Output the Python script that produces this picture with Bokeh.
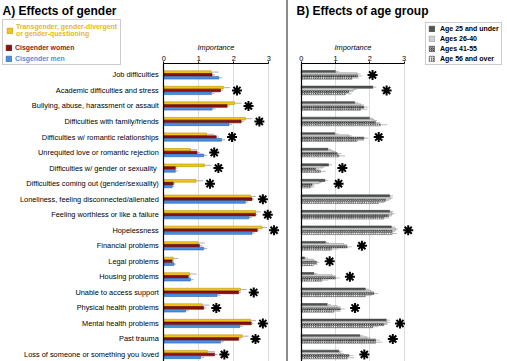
from bokeh.plotting import figure
from bokeh.models import (Range1d, FixedTicker, Legend, LegendItem,
                          BoxAnnotation, Div, ColumnDataSource)
from bokeh.layouts import row
from bokeh.embed import file_html
from bokeh.resources import INLINE

# ---------------- data ----------------
categories = [
    "Job difficulties",
    "Academic difficulties and stress",
    "Bullying, abuse, harassment or assault",
    "Difficulties with family/friends",
    "Difficulties w/ romantic relationships",
    "Unrequited love or romantic rejection",
    "Difficulties  w/ gender or sexuality",
    "Difficulties coming out (gender/sexuality)",
    "Loneliness, feeling disconnected/alienated",
    "Feeling worthless or like a failure",
    "Hopelessness",
    "Financial problems",
    "Legal problems",
    "Housing problems",
    "Unable to access support",
    "Physical health problems",
    "Mental health problems",
    "Past trauma",
    "Loss of someone or something you loved",
]
axis_ticks = [0, 1, 2, 3]

gender_labels = ["Transgender, gender-divergent\nor gender-questioning",
                 "Cisgender women", "Cisgender men"]
trans = [1.35, 1.70, 2.02, 2.33, 1.22, 0.76, 1.16, 0.92, 2.48, 2.62, 2.81,
         0.97, 0.27, 0.74, 2.19, 1.10, 2.48, 2.24, 1.24]
trans_err = [0.22, 0.19, 0.20, 0.20, 0.22, 0.20, 0.20, 0.20, 0.15, 0.15, 0.14,
             0.20, 0.14, 0.20, 0.18, 0.20, 0.15, 0.18, 0.22]
women = [1.38, 1.62, 1.81, 2.21, 1.50, 0.95, 0.33, 0.27, 2.52, 2.62, 2.67,
         1.02, 0.24, 0.70, 2.14, 1.14, 2.50, 2.14, 1.45]
women_err = [0.08, 0.07, 0.07, 0.07, 0.08, 0.08, 0.06, 0.05, 0.06, 0.06, 0.05,
             0.08, 0.05, 0.07, 0.07, 0.08, 0.06, 0.07, 0.08]
men = [1.57, 1.36, 1.38, 1.86, 1.65, 1.14, 0.33, 0.24, 2.33, 2.43, 2.52,
       1.14, 0.29, 0.76, 1.52, 0.62, 2.17, 1.62, 1.05]
men_err = [0.10, 0.09, 0.10, 0.09, 0.10, 0.10, 0.07, 0.06, 0.08, 0.08, 0.08,
           0.10, 0.06, 0.09, 0.10, 0.09, 0.09, 0.10, 0.10]
sig_gender = [0, 1, 1, 1, 1, 1, 1, 1, 1, 1, 1, 0, 0, 0, 1, 1, 1, 1, 1]

age_labels = ["Age 25 and under", "Ages 26-40", "Ages 41-55", "Age 56 and over"]
age_u25 = [1.00, 2.09, 1.56, 1.99, 0.98, 0.78, 0.80, 0.69, 2.58, 2.58, 2.63,
           0.71, 0.10, 0.37, 1.87, 0.76, 2.48, 1.71, 1.10]
age_26_40 = [1.63, 1.53, 1.73, 2.12, 1.39, 0.92, 0.61, 0.52, 2.60, 2.65, 2.75,
             1.24, 0.35, 0.90, 2.02, 1.05, 2.50, 1.92, 1.14]
age_41_55 = [1.65, 1.39, 1.83, 2.17, 1.83, 1.05, 0.42, 0.32, 2.46, 2.55, 2.65,
             1.34, 0.45, 1.00, 2.12, 1.14, 2.41, 2.17, 1.39]
age_56 = [1.48, 1.29, 1.73, 2.31, 1.63, 1.10, 0.56, 0.27, 2.26, 2.41, 2.65,
          0.88, 0.35, 0.61, 1.87, 0.95, 2.09, 2.17, 1.34]
age_u25_err = [0.10] * 19
age_26_40_err = [0.10, 0.09, 0.10, 0.09, 0.10, 0.10, 0.08, 0.08, 0.07, 0.07, 0.07,
                 0.10, 0.07, 0.09, 0.09, 0.10, 0.08, 0.10, 0.10]
age_41_55_err = [0.13, 0.13, 0.13, 0.12, 0.13, 0.13, 0.10, 0.08, 0.10, 0.10, 0.09,
                 0.13, 0.08, 0.12, 0.12, 0.13, 0.11, 0.13, 0.13]
age_56_err = [0.20, 0.18, 0.20, 0.20, 0.20, 0.18, 0.15, 0.12, 0.16, 0.16, 0.14,
              0.20, 0.12, 0.18, 0.18, 0.20, 0.16, 0.20, 0.20]
sig_age = [1, 1, 0, 0, 1, 0, 1, 1, 0, 0, 1, 1, 1, 1, 0, 1, 1, 1, 1]

# ---------------- layout constants ----------------
FONT = "Liberation Sans"
H = 361
WA, WB, WDIV = 286, 219, 2
T_GUESS = 18.5          # expected height of the title band (px)
ROW_PX = 15.556         # px per category row
ROW0_PX = 74.0          # y of first row centre
n = len(categories)
rows = list(range(n))
Y_BOTTOM = n - 1 + 0.45
Y_TOP = -(ROW0_PX - T_GUESS) / ROW_PX
AXIS_Y = -0.707         # where the "Importance" axis sits


def make_fig(width, x0, x1, title_text, title_offset):
    p = figure(width=width, height=H, x_range=Range1d(x0, x1),
               y_range=Range1d(Y_BOTTOM, Y_TOP), x_axis_location="above",
               output_backend="svg", toolbar_location=None,
               min_border_left=0, min_border_right=0,
               min_border_top=0, min_border_bottom=0)
    p.outline_line_color = None
    p.background_fill_color = "white"
    p.border_fill_color = "white"
    p.title.text = title_text
    p.title.align = "left"
    p.title.offset = title_offset
    p.title.text_font = FONT
    p.title.text_font_size = "12px"
    p.title.text_font_style = "bold"
    p.title.text_color = "black"
    p.title.standoff = 3
    xa = p.xaxis[0]
    xa.fixed_location = AXIS_Y
    xa.ticker = FixedTicker(ticks=axis_ticks)
    xa.bounds = (0, 3)
    xa.axis_label = "Importance"
    xa.axis_label_text_font = FONT
    xa.axis_label_text_font_style = "italic"
    xa.axis_label_text_font_size = "7.4px"
    xa.axis_label_text_color = "black"
    xa.axis_label_standoff = 1
    xa.major_label_text_font = FONT
    xa.major_label_text_font_size = "7.4px"
    xa.major_label_text_color = "black"
    xa.major_label_standoff = 1
    xa.major_tick_out = 2
    xa.major_tick_in = 0
    xa.minor_tick_out = 0
    xa.minor_tick_in = 0
    xa.axis_line_color = "black"
    xa.major_tick_line_color = "black"
    p.xgrid.ticker = FixedTicker(ticks=[1, 2, 3])
    p.xgrid.grid_line_color = "#dddddd"
    p.ygrid.visible = False
    # white mask so grid lines stop at the axis
    p.add_layout(BoxAnnotation(bottom=AXIS_Y, fill_color="white", fill_alpha=1,
                               line_color=None, level="glyph"))
    ya = p.yaxis[0]
    ya.fixed_location = 0
    ya.bounds = (Y_BOTTOM, AXIS_Y)
    ya.major_tick_out = 0
    ya.major_tick_in = 0
    ya.minor_tick_out = 0
    ya.minor_tick_in = 0
    ya.axis_line_color = "black"
    ya.axis_line_width = 1.2
    return p


# ---------------- panel A ----------------
PXA = 35.0
X0A = 163.3
pA = make_fig(WA, -X0A / PXA, (WA - X0A) / PXA, "A) Effects of gender", 2)
ya = pA.yaxis[0]
ya.ticker = FixedTicker(ticks=rows)
ya.major_label_overrides = {i: c for i, c in enumerate(categories)}
ya.major_label_text_font = FONT
ya.major_label_text_font_size = "7.4px"
ya.major_label_text_color = "black"
ya.major_label_standoff = 5

gender_series = [
    (trans, trans_err, "#F0C419", "#B8930A", -0.18),
    (women, women_err, "#8E0E0E", "#550000", 0.0),
    (men, men_err, "#4A8FE2", "#2A5FA8", 0.18),
]
rendA = []
for vals, errs, fc, lc, off in gender_series:
    src = ColumnDataSource(dict(y=[r + off for r in rows], v=vals,
                                hi=[v + e for v, e in zip(vals, errs)]))
    r = pA.hbar(y="y", left=0, right="v", height=0.17, source=src,
                fill_color=fc, line_color=lc, line_width=0.6)
    pA.segment(x0="v", x1="hi", y0="y", y1="y", source=src,
               line_color="#999999", line_width=0.8)
    rendA.append(r)

topA = [max(a + ea, b + eb, c + ec) for a, ea, b, eb, c, ec in
        zip(trans, trans_err, women, women_err, men, men_err)]
starA = ColumnDataSource(dict(
    x=[t + 0.2 for t, s in zip(topA, sig_gender) if s],
    y=[r for r, s in zip(rows, sig_gender) if s]))
pA.scatter(x="x", y="y", source=starA, marker="asterisk", size=10,
           line_width=2, line_color="black")

# invisible placeholder glyph for the legend box rows
blank = pA.hbar(y=[], right=[], height=0.1, fill_alpha=0, line_alpha=0)

leg_common = dict(label_text_font=FONT, label_text_font_size="6.9px",
                  label_text_font_style="bold", glyph_width=7, glyph_height=7,
                  label_standoff=3, margin=0, label_height=7)
legA = Legend(items=[LegendItem(label=gender_labels[0], renderers=[rendA[0]]),
                     LegendItem(label=" ", renderers=[blank]),
                     LegendItem(label=" ", renderers=[blank])],
              location=(2, 296), label_text_color="#E8B90F",
              border_line_color="#9a9a9a", border_line_width=1,
              background_fill_color="white", background_fill_alpha=1,
              padding=3, spacing=5, **leg_common)
legA2 = Legend(items=[LegendItem(label=gender_labels[1], renderers=[rendA[1]])],
               location=(5, 310), label_text_color="#8B1A1A",
               border_line_color=None, background_fill_alpha=0,
               padding=0, spacing=0, **leg_common)
legA3 = Legend(items=[LegendItem(label=gender_labels[2], renderers=[rendA[2]])],
               location=(5, 299), label_text_color="#4A8FE2",
               border_line_color=None, background_fill_alpha=0,
               padding=0, spacing=0, **leg_common)
pA.add_layout(legA)
pA.add_layout(legA2)
pA.add_layout(legA3)

# ---------------- panel B ----------------
PXB = 34.3
X0B = 12.7
pB = make_fig(WB, -X0B / PXB, (WB - X0B) / PXB, "B) Effects of age group", 8)
pB.yaxis[0].ticker = FixedTicker(ticks=[])

age_series = [
    (age_u25, age_u25_err, dict(fill_color="#4F5652", line_color="#2e2e2e"), -0.21),
    (age_26_40, age_26_40_err, dict(fill_color="#D2D2D2", line_color="#808080"), -0.07),
    (age_41_55, age_41_55_err, dict(fill_color="#c4c4c4", line_color="#555555",
                                    hatch_pattern="criss_cross", hatch_scale=2.2,
                                    hatch_color="#222222", hatch_weight=0.6), 0.07),
    (age_56, age_56_err, dict(fill_color="white", line_color="#555555",
                              hatch_pattern="right_diagonal_line", hatch_scale=2.2,
                              hatch_color="#222222", hatch_weight=0.7), 0.21),
]
rendB = []
for vals, errs, sty, off in age_series:
    src = ColumnDataSource(dict(y=[r + off for r in rows], v=vals,
                                hi=[v + e for v, e in zip(vals, errs)]))
    r = pB.hbar(y="y", left=0, right="v", height=0.14, source=src,
                line_width=0.5, **sty)
    pB.segment(x0="v", x1="hi", y0="y", y1="y", source=src,
               line_color="#aaaaaa", line_width=0.8)
    rendB.append(r)

topB = [max(a + ea, b + eb, c + ec, d + ed) for a, ea, b, eb, c, ec, d, ed in
        zip(age_u25, age_u25_err, age_26_40, age_26_40_err,
            age_41_55, age_41_55_err, age_56, age_56_err)]
starB = ColumnDataSource(dict(
    x=[t + 0.3 for t, s in zip(topB, sig_age) if s],
    y=[r for r, s in zip(rows, sig_age) if s]))
pB.scatter(x="x", y="y", source=starB, marker="asterisk", size=10,
           line_width=2, line_color="black")

legB = Legend(items=[LegendItem(label=l, renderers=[r]) for l, r in zip(age_labels, rendB)],
              location=(137, 296), border_line_color="#9a9a9a", border_line_width=1,
              background_fill_color="white", background_fill_alpha=1,
              label_text_font=FONT, label_text_font_size="7px",
              label_text_font_style="bold", label_text_color="black",
              glyph_width=7, glyph_height=7, label_standoff=5, padding=2,
              spacing=3, margin=0, label_height=7)
pB.add_layout(legB)

divider = Div(text="", width=WDIV, height=H, margin=0,
              styles={"background-color": "#8a8a8a"})

layout = row(pA, divider, pB, spacing=0)
open("out.html", "w").write(file_html(layout, INLINE))
